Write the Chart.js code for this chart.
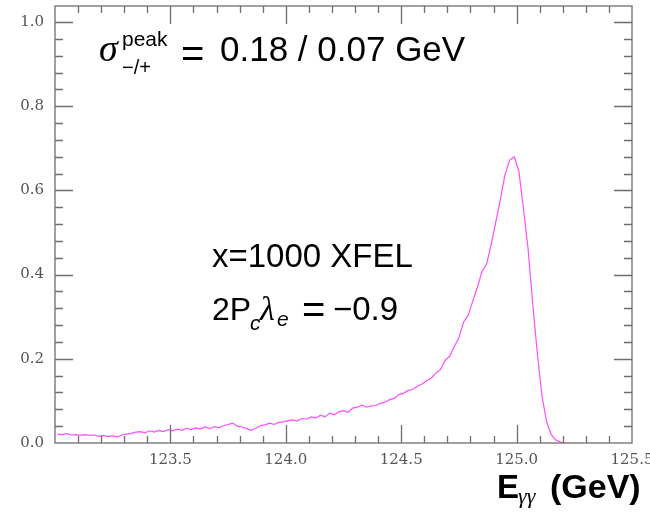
<!DOCTYPE html>
<html><head><meta charset="utf-8">
<script src="https://cdn.jsdelivr.net/npm/chart.js@4"></script>
<style>html,body{margin:0;padding:0;background:#fff;}</style>
</head><body>
<canvas id="c" width="650" height="512" style="width:650px;height:512px;display:block"></canvas>
<script>
// histogram: bin start, bin width, contents
const binStart = 123.00;
const binWidth = 0.02;
const counts = [
 0.021,0.020,0.022,0.019,0.020,0.018,0.020,0.018,0.019,0.016,
 0.018,0.015,0.017,0.014,0.019,0.021,0.023,0.026,0.027,0.024,
 0.029,0.026,0.030,0.027,0.032,0.029,0.033,0.030,0.035,0.032,
 0.036,0.033,0.038,0.034,0.039,0.036,0.041,0.044,0.047,0.040,
 0.038,0.034,0.030,0.035,0.041,0.043,0.047,0.044,0.049,0.050,
 0.053,0.055,0.052,0.058,0.057,0.062,0.059,0.066,0.062,0.071,
 0.067,0.074,0.077,0.073,0.083,0.085,0.090,0.085,0.088,0.089,
 0.094,0.097,0.103,0.106,0.115,0.118,0.125,0.127,0.135,0.140,
 0.148,0.154,0.166,0.174,0.196,0.206,0.229,0.250,0.287,0.303,
 0.337,0.370,0.407,0.425,0.472,0.525,0.580,0.638,0.672,0.680,
 0.645,0.555,0.460,0.330,0.212,0.112,0.050,0.020,0.007,0.002,
 0.000
];
const xTicks = [123.0, 123.5, 124.0, 124.5, 125.0, 125.5];
const xLabelled = [123.5, 124.0, 124.5, 125.0, 125.5];
const yTicks = [0.0, 0.2, 0.4, 0.6, 0.8, 1.0];
const xMin = 123.0, xMax = 125.5, yMin = 0, yMax = 1.038;
const xMinorStep = 0.1, yMinorStep = 0.04;

const points = counts.map((v, i) => ({x: binStart + binWidth * (i + 0.5), y: v}));

const frameColor = '#6e6e6e';
const framePlugin = {
  id: 'frame',
  afterDatasetsDraw(chart) {
    const ctx = chart.ctx, a = chart.chartArea;
    const xs = chart.scales.x, ys = chart.scales.y;
    ctx.save();
    ctx.strokeStyle = frameColor;
    ctx.lineWidth = 1.3;
    ctx.strokeRect(a.left, a.top, a.right - a.left, a.bottom - a.top);
    ctx.beginPath();
    const nx = Math.round((xMax - xMin) / xMinorStep);
    for (let i = 1; i < nx; i++) {
      const v = xMin + i * xMinorStep;
      const px = Math.round(xs.getPixelForValue(v)) + 0.5;
      const major = (i % 5 === 0);
      const L = major ? 18 : 7;
      ctx.moveTo(px, a.bottom); ctx.lineTo(px, a.bottom - L);
      ctx.moveTo(px, a.top); ctx.lineTo(px, a.top + L);
    }
    const ny = Math.round((1.0 - yMin) / yMinorStep);
    for (let i = 1; i <= ny; i++) {
      const v = yMin + i * yMinorStep;
      const py = Math.round(ys.getPixelForValue(v)) + 0.5;
      const major = (i % 5 === 0);
      const L = major ? 18 : 8;
      ctx.moveTo(a.left, py); ctx.lineTo(a.left + L, py);
      ctx.moveTo(a.right, py); ctx.lineTo(a.right - L, py);
    }
    ctx.stroke();
    ctx.restore();
  }
};

const textPlugin = {
  id: 'texts',
  afterDraw(chart) {
    const ctx = chart.ctx;
    ctx.save();
    ctx.fillStyle = '#000';
    ctx.textBaseline = 'alphabetic';
    ctx.textAlign = 'left';
    const t = (s, f, x, y) => { ctx.font = f; ctx.fillText(s, x, y); };
    t('σ', 'italic 38px "Liberation Serif"', 99, 61);
    t('peak', '21px "Liberation Sans"', 122, 46);
    t('−/+', '20px "Liberation Sans"', 122, 74);
    t('=', '40px "Liberation Sans"', 181, 67);
    t('0.18 / 0.07 GeV', '35px "Liberation Sans"', 220, 61);
    t('x=1000 XFEL', '33px "Liberation Sans"', 212, 267);
    t('2P', '32px "Liberation Sans"', 212, 320);
    t('c', 'italic 21px "Liberation Sans"', 250, 330);
    t('λ', 'italic 34px "Liberation Serif"', 260, 320);
    t('e', 'italic 21px "Liberation Sans"', 277, 326);
    t('=', '40px "Liberation Sans"', 302, 323);
    t('−0.9', '33px "Liberation Sans"', 333, 320);
    t('E', 'bold 33px "Liberation Sans"', 497, 498);
    t('γγ', 'italic 22px "Liberation Serif"', 518, 503);
    t('(GeV)', 'bold 34px "Liberation Sans"', 550, 498);
    ctx.restore();
  }
};

new Chart(document.getElementById('c'), {
  type: 'line',
  data: {
    datasets: [{
      data: points,
      borderColor: '#ff4dff',
      borderWidth: 1.2,
      pointRadius: 0,
      fill: false,
      tension: 0
    }]
  },
  options: {
    responsive: false,
    animation: false,
    devicePixelRatio: 1,
    layout: {padding: {top: 6, right: 18, left: 0, bottom: 0}},
    plugins: {legend: {display: false}, tooltip: {enabled: false}, title: {display: false}},
    scales: {
      x: {
        type: 'linear', min: xMin, max: xMax,
        afterBuildTicks: s => { s.ticks = xTicks.map(v => ({value: v})); },
        afterFit: s => { s.height = 69; s.paddingLeft = 0; s.paddingRight = 0; },
        grid: {display: false, drawTicks: false},
        border: {display: false},
        ticks: {
          autoSkip: false, maxRotation: 0, padding: 8,
          color: '#555', font: {family: 'DejaVu Serif', size: 15},
          callback: v => xLabelled.some(t => Math.abs(t - v) < 1e-6) ? Number(v).toFixed(1) : ''
        }
      },
      y: {
        type: 'linear', min: yMin, max: yMax,
        afterBuildTicks: s => { s.ticks = yTicks.map(v => ({value: v})); },
        afterFit: s => { s.width = 55; s.paddingTop = 0; s.paddingBottom = 0; },
        grid: {display: false, drawTicks: false},
        border: {display: false},
        ticks: {
          autoSkip: false, padding: 11,
          color: '#555', font: {family: 'DejaVu Serif', size: 15},
          callback: v => Number(v).toFixed(1)
        }
      }
    }
  },
  plugins: [framePlugin, textPlugin]
});
</script>
</body></html>
